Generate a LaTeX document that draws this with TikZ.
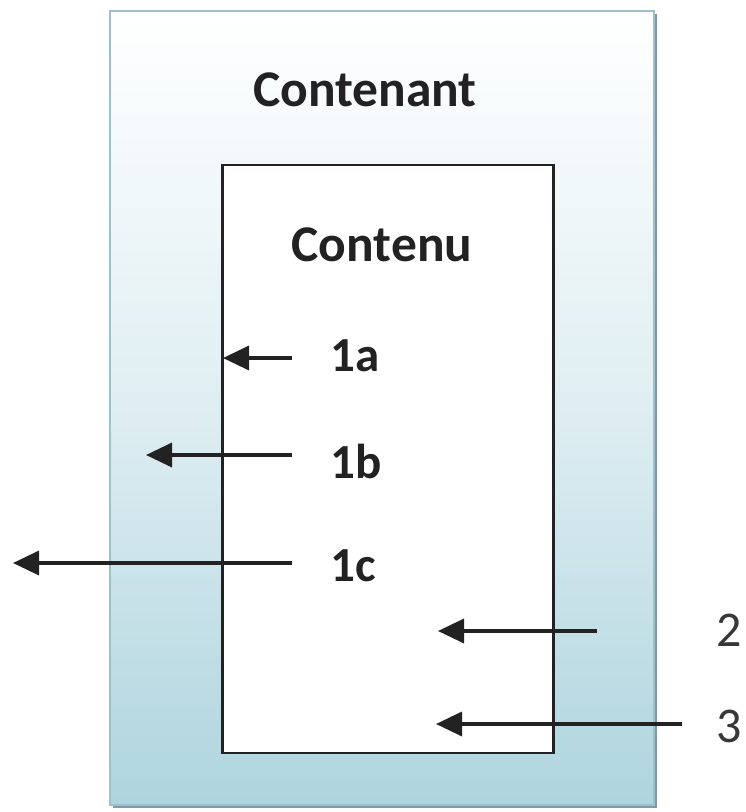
\documentclass[tikz,border=0pt]{standalone}
\usepackage{fontspec}
\setmainfont{Carlito}
\usetikzlibrary{arrows.meta}
\definecolor{boxblue}{HTML}{AED4DE}
\definecolor{boxedge}{HTML}{9EC0C8}
\definecolor{boxshade}{HTML}{7E9AA4}
\definecolor{ink}{HTML}{222222}
\tikzset{
  lbl/.style={font=\bfseries\fontsize{49}{60}\selectfont, text=ink, inner sep=0pt},
  title/.style={lbl, font=\bfseries\fontsize{51.5}{60}\selectfont},
  plain/.style={lbl, font=\fontsize{50}{60}\selectfont, text=ink!90},
  flow/.style={draw=ink, line width=3.5pt, -{Triangle[length=26pt, width=24pt]}},
}
\begin{document}
\begin{tikzpicture}[x=1pt, y=-1pt]
  \useasboundingbox (0,0) rectangle (746,812);
  \fill[white] (0,0) rectangle (746,812);
  % container with its shadow edge
  \fill[boxshade] (113,14) rectangle (657,808);
  \shade[top color=white, bottom color=boxblue, middle color=boxblue!40]
    (110,11) rectangle (654,805);
  \draw[boxedge, line width=1.2pt] (110,11) rectangle (654,805);
  \node[title] (contenant) at (365,90) {Contenant};
  % contained box
  \node[draw=ink, line width=2.5pt, fill=white, minimum width=331pt,
        minimum height=588pt, inner sep=0pt] (contenu box) at (388,459) {};
  \node[title] (contenu) at (382,245) {Contenu};
  % labels
  \node[lbl, anchor=west] (l1a) at (330,356) {1a};
  \node[lbl, anchor=west] (l1b) at (330,461) {1b};
  \node[lbl, anchor=west] (l1c) at (330,566) {1c};
  \node[plain, anchor=west] (l2) at (716,630) {2};
  \node[plain, anchor=west] (l3) at (716,726) {3};
  % arrow ends
  \coordinate (s1a) at (292,358); \coordinate (e1a) at (223,358);
  \coordinate (s1b) at (292,455); \coordinate (e1b) at (146,455);
  \coordinate (s1c) at (292,563); \coordinate (e1c) at (13,563);
  \coordinate (s2) at (597,631);  \coordinate (e2) at (438,631);
  \coordinate (s3) at (682,724);  \coordinate (e3) at (436,724);
  \draw[flow] (s1a) -- (e1a);
  \draw[flow] (s1b) -- (e1b);
  \draw[flow] (s1c) -- (e1c);
  \draw[flow] (s2) -- (e2);
  \draw[flow] (s3) -- (e3);
\end{tikzpicture}
\end{document}
